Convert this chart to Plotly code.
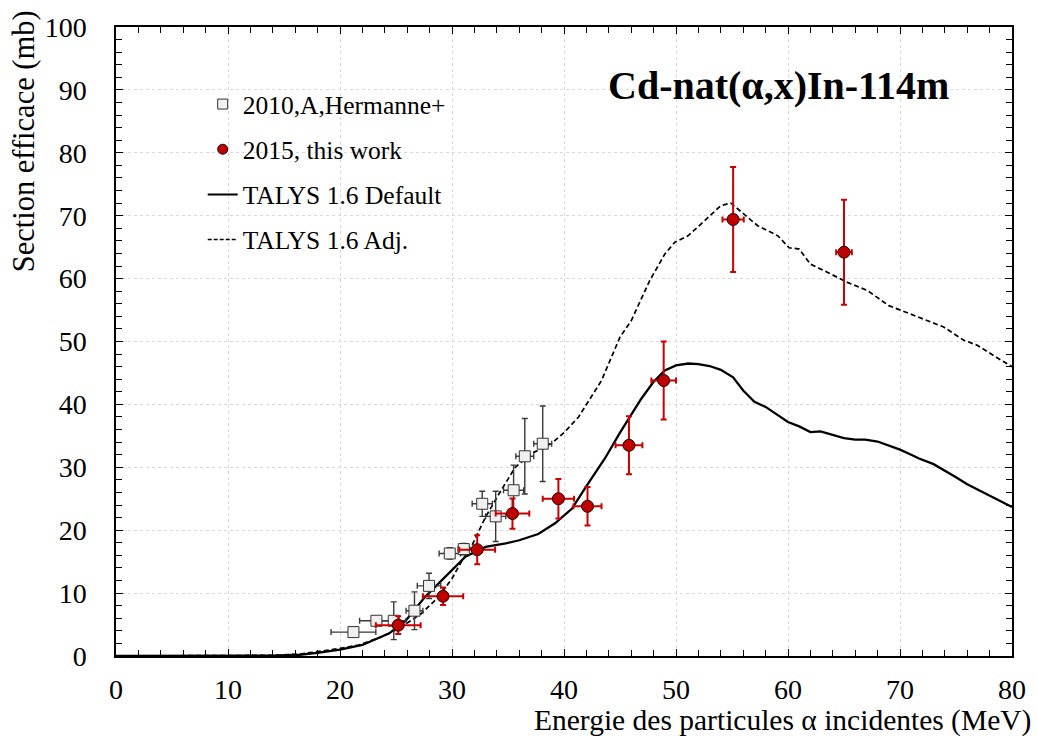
import plotly.graph_objects as go

# ---- data ----
talys_e = [0, 10, 14, 16.4, 18, 20, 22.0, 24.4, 25.9, 27.6, 29.1, 30.6, 31.2, 33.0, 34.8, 36.0, 37.7, 39.2, 40.7,
           42.0, 43.65, 45.0, 46.9, 48.0, 49.0, 50.0, 51.1, 52.0, 53.0, 54.0, 55.1, 56.0, 57.0, 58.0, 59.0,
           60.0, 61.0, 62.0, 62.9, 64.0, 65.0, 66.0, 66.9, 68.0, 69.0, 70.0, 71.0, 71.7, 73.0, 74.0, 75.0,
           76.0, 77.0, 78.0, 79.0, 80.0]
talys_default = [0, 0, 0.05, 0.2, 0.5, 1.0, 1.75, 3.6, 5.7, 9.4, 12.1, 14.7, 15.8, 17.35, 17.9, 18.4, 19.4, 21.1, 23.4,
                 27.0, 31.4, 35.5, 40.9, 43.6, 45.4, 46.2, 46.5, 46.4, 46.1, 45.5, 44.3, 42.2, 40.4, 39.6, 38.4,
                 37.2, 36.5, 35.6, 35.7, 35.1, 34.65, 34.4, 34.4, 34.1, 33.5, 32.8, 32.0, 31.4, 30.5, 29.5, 28.4,
                 27.3, 26.4, 25.5, 24.6, 23.7]

adj_e = [0, 10, 14, 16.4, 18, 20, 21.7, 23.8, 25.3, 27.3, 28.8, 30.0, 30.9, 31.65, 33.0, 34.2, 35.65, 37.1, 38.9,
         40.0, 41.3, 43.35, 45.0, 46.0, 47.66, 49.0, 49.9, 51.07, 52.25, 54.0, 54.9, 56.0, 57.3, 59.1, 60.1,
         61.0, 62.0, 63.8, 65.3, 67.1, 69.0, 70.9, 73.9, 75.7, 76.9, 78.6, 80.0]
talys_adj = [0, 0, 0.1, 0.3, 0.7, 1.2, 1.75, 3.1, 4.4, 6.8, 9.4, 12.3, 15.2, 17.1, 22.1, 25.8, 30.0, 32.2, 33.8,
             35.5, 38.0, 43.8, 50.7, 53.3, 59.7, 63.9, 65.8, 66.8, 68.7, 71.6, 72.0, 70.3, 68.4, 66.8, 64.9,
             64.7, 62.3, 60.75, 59.4, 58.1, 55.7, 54.4, 52.3, 50.2, 49.4, 47.5, 46.0]

herm_e = [21.2, 23.25, 24.8, 26.65, 27.95, 29.8, 31.05, 32.7, 33.9, 35.5, 36.5, 38.1]
herm_xs = [3.8, 5.6, 5.6, 7.2, 11.15, 16.3, 17.0, 24.2, 22.2, 26.35, 31.75, 33.75]
herm_dxs = [0.5, 0.5, 3.0, 3.0, 2.0, 0.9, 0.9, 2.0, 4.0, 4.0, 6.0, 6.0]
herm_de = [2.0, 1.5, 1.1, 0.75, 1.05, 0.95, 0.5, 0.9, 0.9, 0.9, 0.8, 0.8]

work_e = [25.2, 29.2, 32.25, 35.4, 39.5, 42.1, 45.8, 48.9, 55.1, 65.0]
work_xs = [4.9, 9.5, 16.9, 22.65, 25.0, 23.8, 33.5, 43.8, 69.4, 64.2]
work_dxs = [1.4, 1.4, 2.3, 2.4, 3.15, 3.05, 4.6, 6.2, 8.35, 8.35]
work_de = [2.0, 1.8, 1.6, 1.5, 1.4, 1.25, 1.2, 1.1, 0.95, 0.7]

x_ticks = [0, 10, 20, 30, 40, 50, 60, 70, 80]
y_ticks = [0, 10, 20, 30, 40, 50, 60, 70, 80, 90, 100]

FONT = "'Liberation Serif', 'Times New Roman', Times, serif"

fig = go.Figure()

# curves
fig.add_trace(go.Scatter(x=talys_e, y=talys_default, mode="lines", line=dict(color="black", width=2.3),
                         showlegend=False, hoverinfo="skip"))
fig.add_trace(go.Scatter(x=adj_e, y=talys_adj, mode="lines", line=dict(color="black", width=1.7, dash="5px,3px"),
                         showlegend=False, hoverinfo="skip"))

# Hermanne data
fig.add_trace(go.Scatter(x=herm_e, y=herm_xs, mode="markers",
                         marker=dict(symbol="square", size=11, color="#f0f0f0", line=dict(color="#333333", width=1)),
                         error_y=dict(type="data", array=herm_dxs, color="#3a3a3a", thickness=1.4, width=3),
                         error_x=dict(type="data", array=herm_de, color="#3a3a3a", thickness=1.4, width=3),
                         showlegend=False))
# this work
fig.add_trace(go.Scatter(x=work_e, y=work_xs, mode="markers",
                         marker=dict(symbol="circle", size=12, color="#c00000", line=dict(color="#200000", width=1)),
                         error_y=dict(type="data", array=work_dxs, color="#cc0000", thickness=2, width=3),
                         error_x=dict(type="data", array=work_de, color="#cc0000", thickness=2, width=3),
                         showlegend=False))

# legend-only entries
fig.add_trace(go.Scatter(x=[None], y=[None], mode="markers", name="2010,A,Hermanne+", legendgroup="a",
                         marker=dict(symbol="square", size=10, color="#f0f0f0", line=dict(color="#333333", width=1))))
fig.add_trace(go.Scatter(x=[None], y=[None], mode="markers", name="2015, this work", legendgroup="b",
                         marker=dict(symbol="circle", size=10, color="#c00000", line=dict(color="#200000", width=1))))
fig.add_trace(go.Scatter(x=[None], y=[None], mode="lines", name="TALYS 1.6 Default", legendgroup="c",
                         line=dict(color="black", width=2)))
fig.add_trace(go.Scatter(x=[None], y=[None], mode="lines", name="TALYS 1.6 Adj.", legendgroup="d",
                         line=dict(color="black", width=1.4, dash="4px,2px")))

axis_common = dict(
    showline=True, linecolor="black", linewidth=1.5, mirror="allticks",
    ticks="inside", ticklen=7, tickwidth=1, tickcolor="black",
    showgrid=True, gridcolor="#d9d9d9", griddash="dot", gridwidth=1,
    zeroline=False, tickfont=dict(family=FONT, size=28, color="black"),
)

fig.update_xaxes(range=[0, 80], tickvals=x_ticks, ticktext=[str(v) for v in x_ticks],
                 minor=dict(dtick=2, ticks="inside", ticklen=6, tickcolor="black", showgrid=False),
                 ticklabelstandoff=8, **axis_common)
fig.update_yaxes(range=[0, 100], tickvals=y_ticks, ticktext=[str(v) for v in y_ticks],
                 minor=dict(dtick=2, ticks="inside", ticklen=6, tickcolor="black", showgrid=False),
                 ticklabelstandoff=22, **axis_common)

pw = 1038 - 116 - 23
ph = 738 - 27 - 82

fig.update_layout(
    width=1038, height=738,
    margin=dict(l=116, r=23, t=27, b=82),
    paper_bgcolor="white", plot_bgcolor="white",
    font=dict(family=FONT, color="black"),
    legend=dict(x=(203 - 116) / pw, y=(656 - 81) / ph, xanchor="left", yanchor="top", bgcolor="rgba(0,0,0,0)",
                font=dict(family=FONT, size=25.5, color="black"), tracegroupgap=9,
                traceorder="grouped", itemwidth=30),
    annotations=[
        dict(text="<b>Cd-nat(α,x)In-114m</b>", x=(954 - 116) / pw, y=(656 - 86) / ph, xref="paper", yref="paper",
             xanchor="right", yanchor="middle", showarrow=False,
             font=dict(family=FONT, size=40, color="black")),
        dict(text="Energie des particules α incidentes (MeV)", x=(1036 - 116) / pw, y=-(721 - 656) / ph,
             xref="paper", yref="paper", xanchor="right", yanchor="middle",
             showarrow=False, font=dict(family=FONT, size=29.5, color="black")),
        dict(text="Section efficace (mb)", x=-(116 - 24) / pw, y=(656 - 8) / ph, xref="paper", yref="paper",
             xanchor="center", yanchor="top",
             showarrow=False, textangle=-90, font=dict(family=FONT, size=30.5, color="black")),
    ],
)

fig.write_html("out.html", config={"displayModeBar": False},
               post_script="document.body.style.margin='0px';document.body.style.overflow='hidden';")
